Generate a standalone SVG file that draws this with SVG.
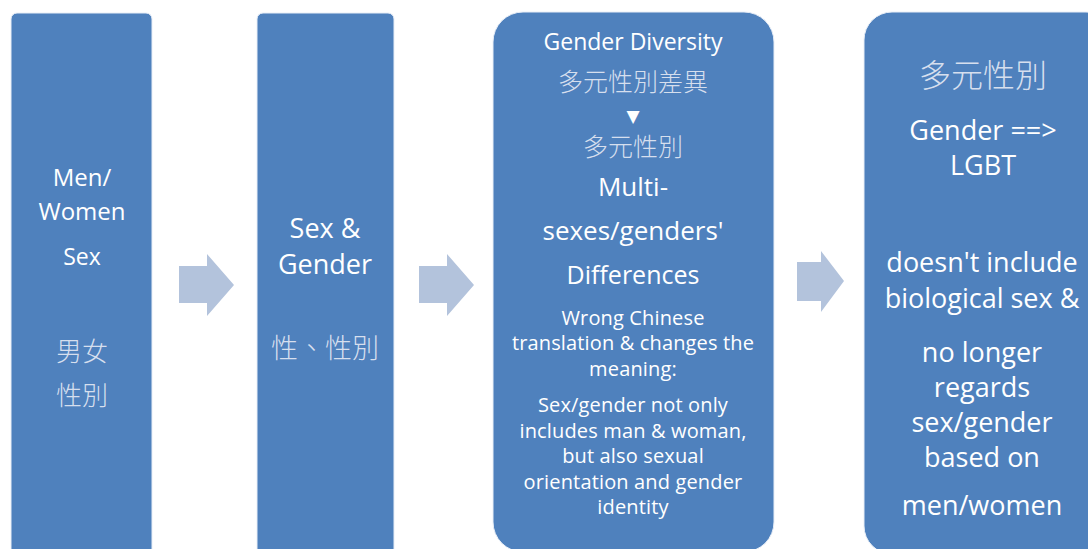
<svg xmlns="http://www.w3.org/2000/svg" width="1088" height="549" viewBox="0 0 1088 549">
<style>
.box{fill:#4f81bd;stroke:#e8eef7;stroke-width:1}
.arr{fill:#b3c3dc}
text{font-family:"Open Sans","Noto Sans CJK TC",sans-serif;fill:#ffffff;text-anchor:middle}
.zh{font-family:"Noto Sans CJK TC","Noto Sans CJK SC",sans-serif;fill:#d6dfee;font-weight:300}
.sm{font-size:20px;letter-spacing:0.15px}
</style>
<rect width="1088" height="549" fill="#ffffff"/>
<g id="connectors">
<polygon class="arr" points="179,266 207,266 207,254 234,285 207,316 207,303 179,303"/>
<polygon class="arr" points="419,266 447,266 447,254 474,285 447,316 447,303 419,303"/>
<polygon class="arr" points="797,262 821,262 821,251 844,281 821,312 821,301 797,301"/>
</g>
<g id="node1">
<rect class="box" x="11" y="13" width="141" height="560" rx="6"/>
<text x="82" y="186" font-size="24">Men/</text>
<text x="82" y="220" font-size="24">Women</text>
<text x="82" y="265" font-size="23">Sex</text>
<text class="zh" x="82" y="361" font-size="26">男女</text>
<text class="zh" x="82" y="405" font-size="26">性別</text>
</g>
<g id="node2">
<rect class="box" x="257" y="13" width="137" height="560" rx="6"/>
<text x="325" y="238" font-size="27">Sex &amp;</text>
<text x="325" y="274" font-size="27">Gender</text>
<text class="zh" x="325" y="358" font-size="27">性、性別</text>
</g>
<g id="node3">
<rect class="box" x="493" y="12" width="281" height="540" rx="30"/>
<text x="633" y="50" font-size="23">Gender Diversity</text>
<text class="zh" x="633" y="91" font-size="25">多元性別差異</text>
<text x="633" y="122" font-size="17" style="font-family:'DejaVu Sans',sans-serif">▼</text>
<text class="zh" x="633" y="156" font-size="25">多元性別</text>
<text x="633" y="196" font-size="26">Multi-</text>
<text x="633" y="240" font-size="26">sexes/genders'</text>
<text x="633" y="284" font-size="25">Differences</text>
<text class="sm" x="633" y="325">Wrong Chinese</text>
<text class="sm" x="633" y="350">translation &amp; changes the</text>
<text class="sm" x="633" y="376">meaning:</text>
<text class="sm" x="633" y="412">Sex/gender not only</text>
<text class="sm" x="633" y="438">includes man &amp; woman,</text>
<text class="sm" x="633" y="463">but also sexual</text>
<text class="sm" x="633" y="489">orientation and gender</text>
<text class="sm" x="633" y="514">identity</text>
</g>
<g id="node4">
<rect class="box" x="864" y="12" width="250" height="542" rx="28"/>
<text class="zh" x="983" y="87" font-size="32">多元性別</text>
<text x="983" y="140" font-size="27">Gender ==&gt;</text>
<text x="983" y="175" font-size="27">LGBT</text>
<text x="982" y="272" font-size="27">doesn't include</text>
<text x="982" y="308" font-size="27">biological sex &amp;</text>
<text x="982" y="362" font-size="27">no longer</text>
<text x="982" y="397" font-size="27">regards</text>
<text x="982" y="432" font-size="27">sex/gender</text>
<text x="982" y="467" font-size="27">based on</text>
<text x="982" y="515" font-size="27">men/women</text>
</g>
</svg>
